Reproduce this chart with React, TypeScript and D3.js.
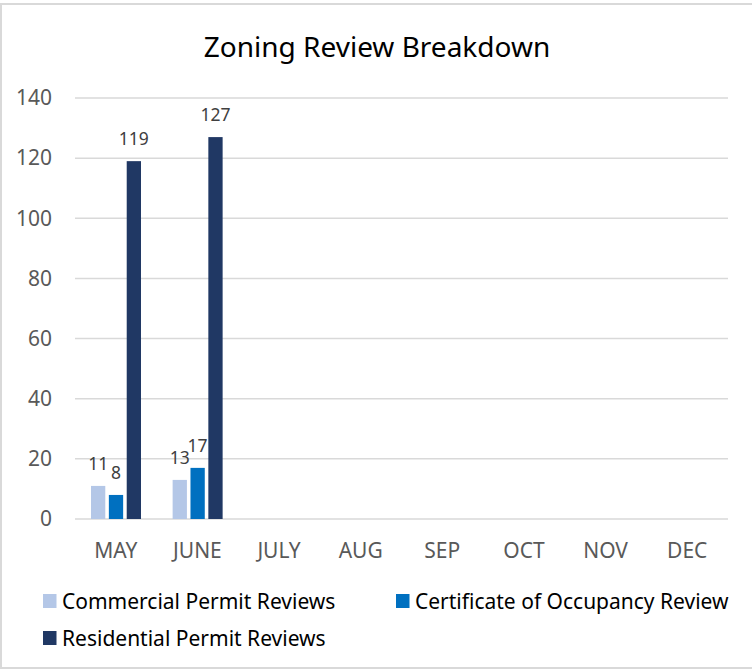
import { useEffect } from 'react';
import * as d3 from 'd3';

const months = ['MAY', 'JUNE', 'JULY', 'AUG', 'SEP', 'OCT', 'NOV', 'DEC'];
const seriesNames = ['Commercial Permit Reviews', 'Certificate of Occupancy Review', 'Residential Permit Reviews'];
const seriesColors = ['#B4C7E7', '#0070C0', '#203864'];
const commercial: (number | null)[] = [11, 13, null, null, null, null, null, null];
const certificate: (number | null)[] = [8, 17, null, null, null, null, null, null];
const residential: (number | null)[] = [119, 127, null, null, null, null, null, null];
const yTicks = [0, 20, 40, 60, 80, 100, 120, 140];

const W = 752;
const H = 671;
const FONT = "'Noto Sans', 'Open Sans', sans-serif";

export default function App() {
  useEffect(() => {
    document.body.style.margin = '0';
  }, []);

  const seriesValues = [commercial, certificate, residential];

  // scales
  const y = d3.scaleLinear().domain([0, 140]).range([519, 98]);
  const x0 = d3.scaleBand<string>().domain(months).range([75, 728]);
  const x1 = d3.scaleBand<number>().domain([0, 1, 2]).range([16, 66]).paddingInner(0.2);

  return (
    <svg width={W} height={H} style={{ display: 'block', background: '#fff' }} fontFamily={FONT}>
      <rect x={1} y={4} width={W + 4} height={664} fill="#fff" stroke="#D9D9D9" strokeWidth={2} />

      <text x={377} y={57} textAnchor="middle" fontSize={28} fill="#000">
        Zoning Review Breakdown
      </text>

      {/* grid + y labels */}
      {yTicks.map((t) => (
        <g key={t}>
          <line x1={75} x2={728} y1={y(t)} y2={y(t)} stroke="#D9D9D9" strokeWidth={1.5} />
          <text x={52} y={y(t)} dy="0.35em" textAnchor="end" fontSize={21} fill="#595959">
            {t}
          </text>
        </g>
      ))}

      {/* bars */}
      {months.map((m, i) => (
        <g key={m} transform={`translate(${x0(m)},0)`}>
          {seriesValues.map((vals, s) => {
            const v = vals[i];
            if (v == null) return null;
            const bx = x1(s) as number;
            const bw = x1.bandwidth();
            return (
              <g key={s}>
                <rect x={bx} y={y(v)} width={bw} height={y(0) - y(v)} fill={seriesColors[s]} />
                <text x={bx + bw / 2} y={y(v) - 16} textAnchor="middle" fontSize={17.5} fill="#404040">
                  {v}
                </text>
              </g>
            );
          })}
        </g>
      ))}

      {/* x labels */}
      {months.map((m) => (
        <text key={m} x={(x0(m) as number) + x0.bandwidth() / 2} y={558} textAnchor="middle" fontSize={21} fill="#595959">
          {m}
        </text>
      ))}

      {/* legend */}
      {seriesNames.map((name, s) => {
        const lx = s === 1 ? 396 : 43;
        const ly = s === 2 ? 631 : 594;
        return (
          <g key={name}>
            <rect x={lx} y={ly} width={13.5} height={14} fill={seriesColors[s]} />
            <text x={lx + 19} y={ly + 14.5} fontSize={21} fill="#000">
              {name}
            </text>
          </g>
        );
      })}
    </svg>
  );
}
